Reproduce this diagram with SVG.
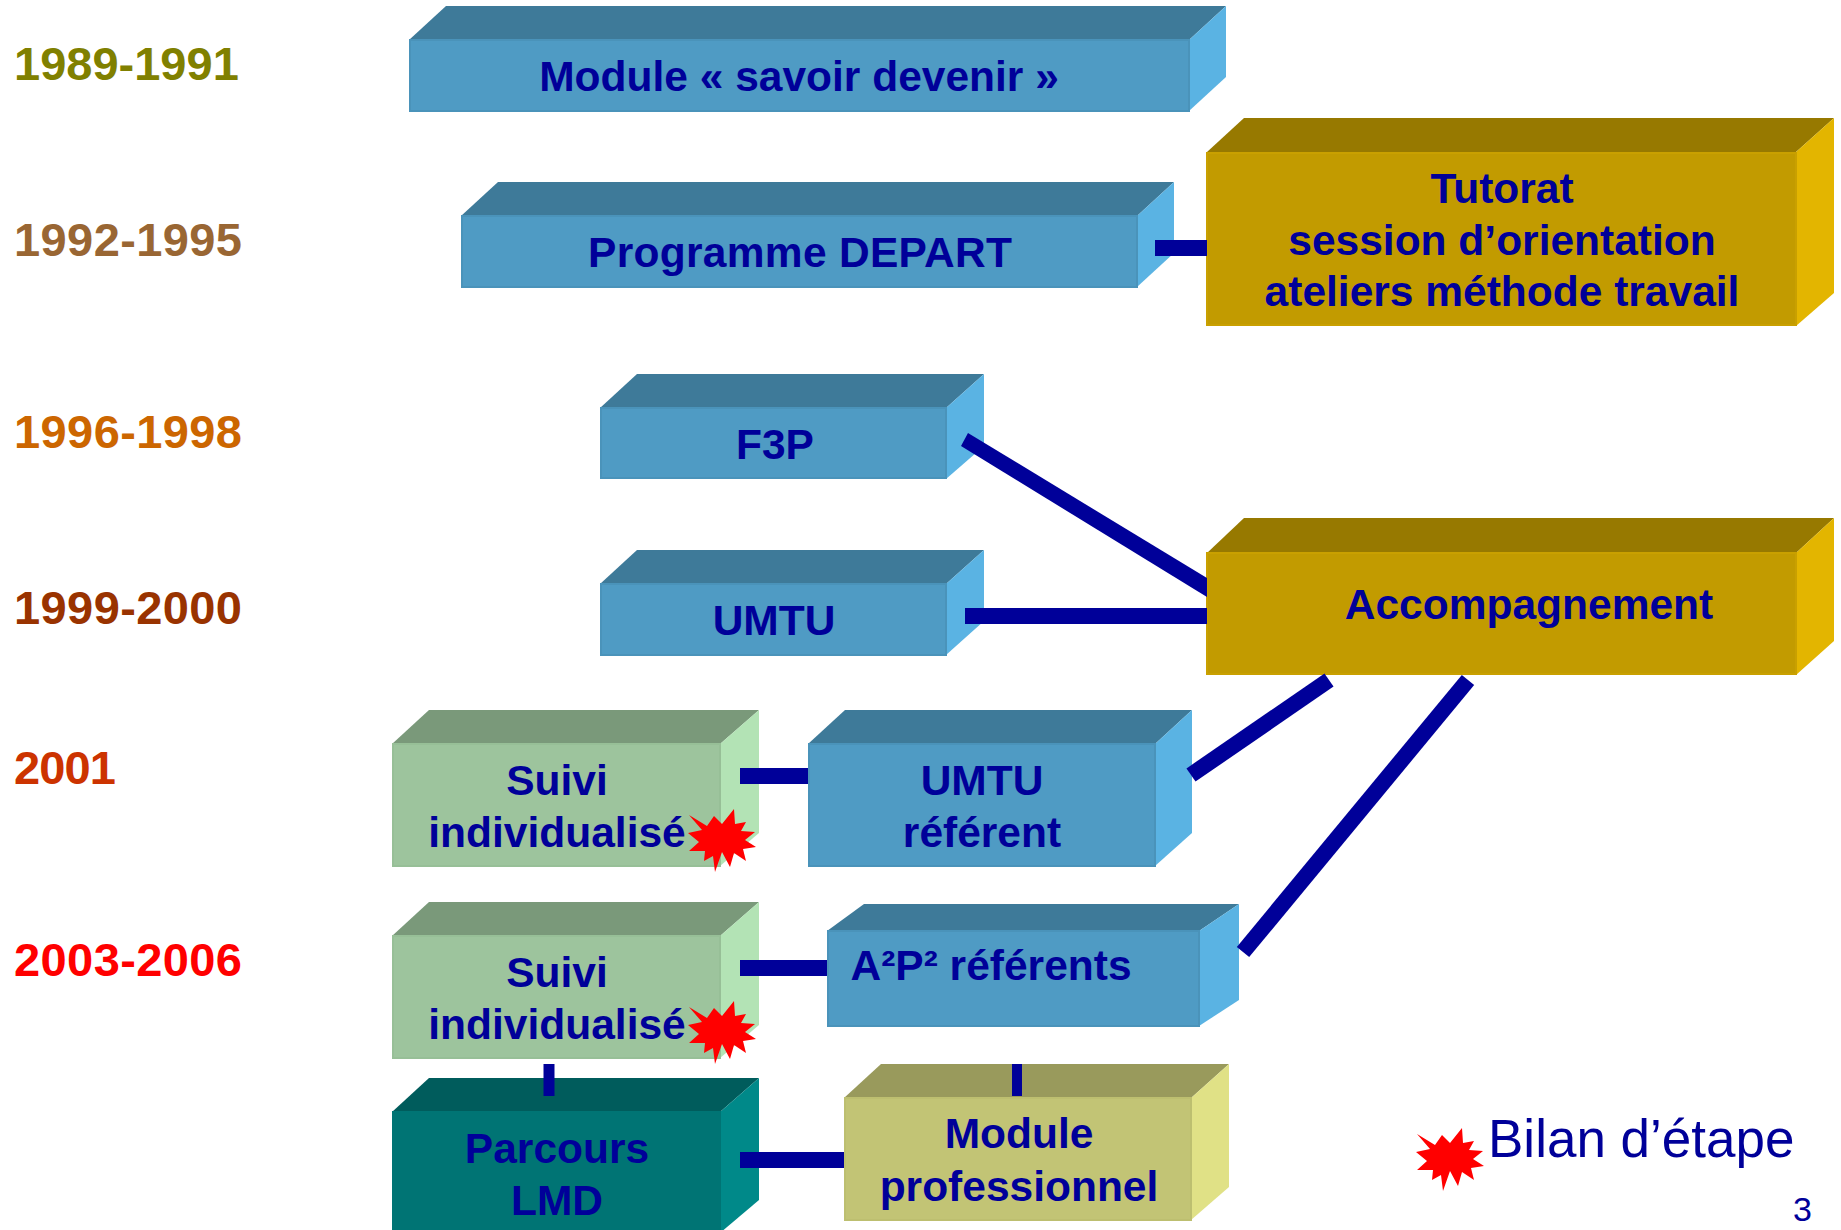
<svg xmlns="http://www.w3.org/2000/svg" xmlns:xlink="http://www.w3.org/1999/xlink" width="1841" height="1230" viewBox="0 0 1841 1230">
<style>
text{font-family:"Liberation Sans",Arial,sans-serif}
.l{font-size:42.500px;font-weight:bold;fill:#000099;text-anchor:middle}
.d{font-size:47px;font-weight:bold}
.blue .t{fill:#3E7A99}.blue .s{fill:#5AB3E3}.blue .f{fill:#4F9BC4;stroke:#4A93BA}
.gold .t{fill:#977900}.gold .s{fill:#E3B500}.gold .f{fill:#C29B00;stroke:#C9A000}
.green .t{fill:#7A997A}.green .s{fill:#B3E3B5}.green .f{fill:#9DC49D;stroke:#97BF97}
.teal .t{fill:#005C5C}.teal .s{fill:#008989}.teal .f{fill:#007474;stroke:#007474}
.olive .t{fill:#999A5C}.olive .s{fill:#E0E186}.olive .f{fill:#C2C475;stroke:#BDBF70}
.f{stroke-width:2}
.c{stroke:#000099;stroke-width:16;fill:none}
.cf{fill:#000099}
</style>
<defs>
<polygon id="star" fill="#FF0000" points="-33,-24 -15,-13 -8,-23 0,-15 12,-30 13,-15 24,-17 19,-8 33,-7 23,1 34,8 21,10 24,22 12,14 8,28 0,13 -7,33 -9,17 -18,22 -17,12 -33,12 -23,3 -34,-6 -20,-9"/>
</defs>
<g id="dates">
<text class="d" x="14" y="80" fill="#808000">1989-1991</text>
<text class="d" x="14" y="256" fill="#996633" textLength="228">1992-1995</text>
<text class="d" x="14" y="448" fill="#CC6600" textLength="228">1996-1998</text>
<text class="d" x="14" y="624" fill="#993300" textLength="228">1999-2000</text>
<text class="d" x="14" y="784" fill="#CC3300" textLength="102">2001</text>
<text class="d" x="14" y="976" fill="#FF0000" textLength="228">2003-2006</text>
</g>
<g id="n-module" class="blue"><polygon class="t" points="409,40 446,6 1226,6 1189,40"/><polygon class="s" points="1189,40 1226,6 1226,77 1189,111"/><rect class="f" x="410" y="40" width="779" height="71"/><text class="l" x="799" y="91">Module « savoir devenir »</text></g>
<g id="n-depart" class="blue"><polygon class="t" points="461,216 498,182 1174,182 1137,216"/><polygon class="s" points="1137,216 1174,182 1174,253 1137,287"/><rect class="f" x="462" y="216" width="675" height="71"/><text class="l" x="800" y="267" textLength="424">Programme DEPART</text></g>
<g id="n-tutorat" class="gold"><polygon class="t" points="1207,152 1244,118 1834,118 1796,152"/><polygon class="s" points="1796,152 1834,118 1834,293 1796,326"/><rect class="f" x="1207" y="153" width="589" height="172"/><text class="l" x="1502" y="203">Tutorat</text><text class="l" x="1502" y="255">session d’orientation</text><text class="l" x="1502" y="306">ateliers méthode travail</text></g>
<g id="n-f3p" class="blue"><polygon class="t" points="600,408 637,374 984,374 946,408"/><polygon class="s" points="946,408 984,374 984,446 946,479"/><rect class="f" x="601" y="408" width="345" height="70"/><text class="l" x="775" y="459">F3P</text></g>
<g id="n-umtu" class="blue"><polygon class="t" points="600,584 637,550 984,550 946,584"/><polygon class="s" points="946,584 984,550 984,621 946,655"/><rect class="f" x="601" y="584" width="345" height="71"/><text class="l" x="774" y="635">UMTU</text></g>
<g id="n-accomp" class="gold"><polygon class="t" points="1207,553 1244,518 1834,518 1796,553"/><polygon class="s" points="1796,553 1834,518 1834,641 1796,675"/><rect class="f" x="1207" y="553" width="589" height="121"/><text class="l" x="1529" y="619">Accompagnement</text></g>
<g id="n-suivi1" class="green"><polygon class="t" points="392,744 429,710 759,710 720,744"/><polygon class="s" points="720,744 759,710 759,833 720,866"/><rect class="f" x="393" y="744" width="327" height="122"/><text class="l" x="557" y="795">Suivi</text><text class="l" x="557" y="847">individualisé</text><use xlink:href="#star" href="#star" x="722" y="839"/></g>
<g id="n-umturef" class="blue"><polygon class="t" points="808,744 845,710 1192,710 1155,744"/><polygon class="s" points="1155,744 1192,710 1192,833 1155,866"/><rect class="f" x="809" y="744" width="346" height="122"/><text class="l" x="982" y="795">UMTU</text><text class="l" x="982" y="847">référent</text></g>
<g id="n-suivi2" class="green"><polygon class="t" points="392,936 429,902 759,902 720,936"/><polygon class="s" points="720,936 759,902 759,1025 720,1058"/><rect class="f" x="393" y="936" width="327" height="122"/><text class="l" x="557" y="987">Suivi</text><text class="l" x="557" y="1039">individualisé</text><use xlink:href="#star" href="#star" x="722" y="1031"/></g>
<g id="n-a2p2" class="blue"><polygon class="t" points="827,931 864,904 1239,904 1199,931"/><polygon class="s" points="1199,931 1239,904 1239,1000 1199,1026"/><rect class="f" x="828" y="931" width="371" height="95"/><text class="l" x="991" y="980">A²P² référents</text></g>
<g id="n-parcours" class="teal"><polygon class="t" points="392,1112 429,1078 759,1078 720,1112"/><polygon class="s" points="720,1112 759,1078 759,1200 720,1233"/><rect class="f" x="393" y="1112" width="327" height="124"/><text class="l" x="557" y="1163">Parcours</text><text class="l" x="557" y="1215">LMD</text></g>
<g id="n-modpro" class="olive"><polygon class="t" points="844,1098 881,1064 1229,1064 1191,1098"/><polygon class="s" points="1191,1098 1229,1064 1229,1187 1191,1220"/><rect class="f" x="845" y="1098" width="346" height="122"/><text class="l" x="1019" y="1148">Module</text><text class="l" x="1019" y="1201">professionnel</text></g>
<g id="connectors">
<line class="c" x1="1155" y1="248" x2="1207" y2="248"/>
<polygon class="cf" points="968,433 1207,578 1207,597 961,446"/>
<line class="c" x1="965" y1="616" x2="1207" y2="616"/>
<line class="c" x1="1329" y1="680" x2="1191" y2="775"/>
<line class="c" x1="1468" y1="680" x2="1243" y2="952"/>
<line class="c" x1="740" y1="776" x2="808" y2="776"/>
<line class="c" x1="740" y1="968" x2="827" y2="968"/>
<line class="c" x1="740" y1="1160" x2="844" y2="1160"/>
<line class="c" style="stroke-width:11" x1="549" y1="1064" x2="549" y2="1096"/>
<line class="c" style="stroke-width:10" x1="1017" y1="1064" x2="1017" y2="1096"/>
</g>
<g id="legend"><use xlink:href="#star" href="#star" x="1450" y="1158"/><text x="1488" y="1157" font-size="53" fill="#000099">Bilan d’étape</text></g>
<text id="page" x="1793" y="1221" font-size="34" fill="#000099">3</text>
</svg>
